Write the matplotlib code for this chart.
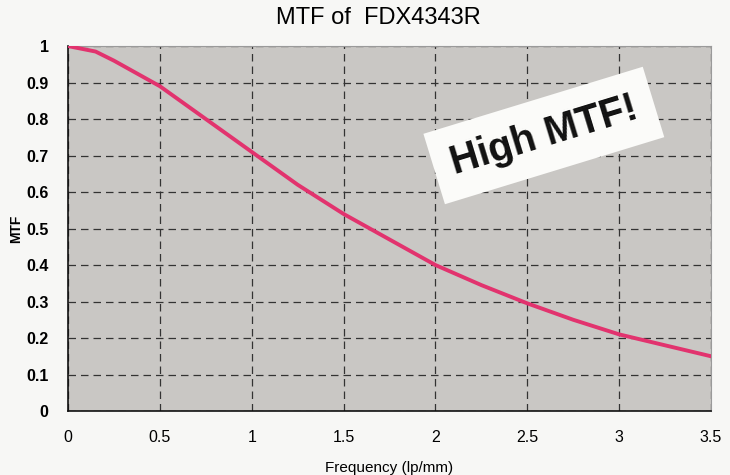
import matplotlib.pyplot as plt

# Data
freq = [0, 0.15, 0.25, 0.5, 0.75, 1.0, 1.25, 1.5, 1.75, 2.0, 2.25, 2.5, 2.75, 3.0, 3.25, 3.5]
mtf = [1.0, 0.985, 0.96, 0.89, 0.80, 0.71, 0.62, 0.54, 0.47, 0.40, 0.345, 0.295, 0.25, 0.21, 0.18, 0.15]

xticks = [0, 0.5, 1, 1.5, 2, 2.5, 3, 3.5]
xlabels = ['0', '0.5', '1', '1.5', '2', '2.5', '3', '3.5']
yticks = [0, 0.1, 0.2, 0.3, 0.4, 0.5, 0.6, 0.7, 0.8, 0.9, 1.0]
ylabels = ['0', '0.1', '0.2', '0.3', '0.4', '0.5', '0.6', '0.7', '0.8', '0.9', '1']

plt.rcParams['font.family'] = ['Liberation Sans', 'DejaVu Sans']

fig = plt.figure(figsize=(7.3, 4.75), dpi=100, facecolor='#f7f7f5')
ax = fig.add_axes([0.0932, 0.1347, 0.8808, 0.7683])
ax.set_facecolor('#c9c7c4')

ax.plot(freq, mtf, color='#e2336e', linewidth=2.8, zorder=3)

ax.set_xlim(0, 3.5)
ax.set_ylim(0, 1)
ax.set_xticks(xticks)
ax.set_xticklabels(xlabels, fontsize=11.5)
ax.set_yticks(yticks)
ax.set_yticklabels(ylabels, fontsize=11.5, fontweight='semibold')
ax.tick_params(length=0, pad=14)
ax.tick_params(axis='y', pad=14)

ax.grid(True, color='#333333', linestyle=(0, (6, 4)), linewidth=0.9)
ax.set_axisbelow(True)

for side in ['top', 'right']:
    ax.spines[side].set_color('#9a9a9a')
    ax.spines[side].set_linewidth(0.8)
for side in ['left', 'bottom']:
    ax.spines[side].set_color('#111111')
    ax.spines[side].set_linewidth(1.2)

ax.set_xlabel('Frequency (lp/mm)', fontsize=11, labelpad=11)
ax.set_ylabel('MTF', fontsize=10, fontweight='semibold', labelpad=2)
fig.text(0.519, 0.962, 'MTF of  FDX4343R', ha='center', va='center', fontsize=17)

ax.text(2.59, 0.755, 'High MTF!', rotation=17, ha='center', va='center',
        fontsize=28.5, fontweight='bold', color='#111111', zorder=4,
        bbox=dict(boxstyle='square,pad=0.45', facecolor='#fbfbf9', edgecolor='none'))

fig.savefig('out.png', dpi=100, facecolor=fig.get_facecolor())
